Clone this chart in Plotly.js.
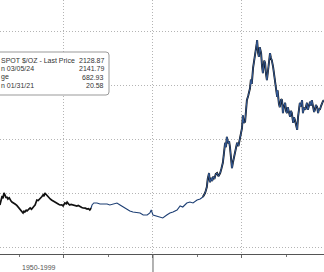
<!DOCTYPE html>
<html>
<head>
<meta charset="utf-8">
<script src="https://cdn.plot.ly/plotly-3.0.1.min.js"></script>
<style>html,body{margin:0;padding:0;background:#fff;}#chart{width:324px;height:272px;}</style>
</head>
<body>
<div id="chart"></div>
<script>
// ---- data ----
// period 1 (black)
var xEarly = [-14.4,-14.1,-13.9,-13.7,-13.5,-13.2,-13.0,-12.8,-12.6,-12.3,-12.1,-11.9,-11.7,-11.3,-11.0,-10.6,-10.3,-10.1,-9.9,-9.5,-9.2,-9.0,-8.8,-8.5,-8.3,-7.9,-7.6,-7.3,-7.0,-6.7,-6.5,-6.3,-6.1,-5.8,-5.4,-5.0,-4.7,-4.5,-4.3,-4.0,-3.8,-3.4,-3.1,-2.8,-2.5,-2.0,-1.6,-1.2,-0.9,-0.5,-0.2,0.0,0.2,0.5,0.7,1.0,1.3,1.6,2.0,2.5,2.9,3.2,3.6,4.0,4.3,4.8,5.2,5.5,5.8,6.1];
var yEarly = [177.8,186,194.4,190,200,195,190.7,193,188.9,191,187,185,183.3,182,179.6,177,174.1,171,168.5,166,163,166,164.8,168,166.7,170,172.2,170,174.1,176,177.8,183,187,186,190.7,193,196.3,194,200,197,194.4,192,188.9,187,185.2,183,181.5,179,177.8,178,175.9,178,181.5,180,183.3,180,177.8,179,177.8,176,175.9,177,174.1,173,172.2,172,170.4,171,168.5,172.2];
// period 2, calm part (blue)
var xMid = [6.1,6.3,6.7,7.4,8.1,8.8,9.7,10.3,11.0,11.9,12.6,13.3,14.2,14.8,15.5,16.4,17.1,17.8,18.7,19.3,19.6,20.0,20.9,21.6,22.2,23.1,23.8,24.5,25.4,26.1,26.7,27.6,28.3,29.0,29.9,30.6,31.2];
var yMid = [172.2,177.8,181.5,181.5,179.6,179.6,179.6,177.8,179.6,181.5,177.8,174.1,170.4,166.7,164.8,163,163,159.3,159.3,163,168.5,159.3,157.4,155.6,153.7,159.3,163,164.8,168.5,175.9,174.1,181.5,183.3,181.5,187,188.9,192.6];
// period 2, volatile part
var xLate = [31.2,31.5,31.7,31.9,32.1,32.3,32.6,32.7,32.8,33.1,33.3,33.5,33.8,34.1,34.4,34.7,35.1,35.4,35.7,35.9,36.2,36.4,36.6,36.9,37.1,37.3,37.5,37.75,38.0,38.2,38.5,38.9,39.2,39.6,39.8,40.0,40.2,40.4,40.7,40.9,41.1,41.4,41.8,42.0,42.2,42.5,42.8,43.1,43.3,43.4,43.6,43.8,44.0,44.3,44.5,44.7,45.0,45.2,45.4,45.6,45.9,46.1,46.3,46.5,46.7,47.0,47.2,47.4,47.6,47.9,48.0,48.1,48.3,48.5,48.8,49.0,49.2,49.4,49.7,49.9,50.1,50.3,50.6,50.8,51.0,51.2,51.5,51.7,51.9,52.1,52.4,52.6,52.8,53.0,53.2,53.5,53.7,53.9,54.2,54.4,54.6,54.8,55.0,55.3,55.5,55.7,56.0,56.2,56.4,56.6,56.9,57.1,57.3,57.5,57.8,58.0,58.2,58.4];
var yLate = [192.6,196,200,205,211,226,237,226,220,228,222,230,226,235,237,231,237,246,256,270,293,285,304,292,296,285,268,246,258,265,280,293,287,302,310,320,344,330,332,352,372,380,394,410,402,432,445,465,476,483,460,452,470,459,435,422,445,441,420,409,430,446,459,450,446,433,420,409,392,378,390,378,365,359,374,372,348,360,367,352,348,359,345,341,352,348,330,340,335,325,317,341,355,367,360,372,348,358,354,364,367,354,362,369,362,372,359,350,354,363,359,348,356,354,362,367,370,372];
var gridY = [100,200,300,400,500];
var periodLabel = '1950-1999';
var legendNames = ['SPOT $/OZ - Last Price','n 03/05/24','ge','n 01/31/21'];
var legendValues = ['2128.87','2141.79','682.93','20.58'];

// ---- layout constants ----
var W = 324, H = 272, B = 18, PH = H - B;
var xr = [-14.38, 58.43], yr = [87.04, 557.4];
function px(p){ return p / W; }
function py(p){ return (PH - p) / PH; }

var traces = [
  {x:xEarly, y:yEarly, mode:'lines', line:{color:'#111111', width:1.7}, hoverinfo:'skip'},
  {x:xMid, y:yMid, mode:'lines', line:{color:'#1d3f74', width:1.1}, hoverinfo:'skip'},
  {x:xLate, y:yLate, mode:'lines', line:{color:'#111111', width:1.9}, hoverinfo:'skip'},
  {x:xLate, y:yLate, mode:'lines', line:{color:'#3762a6', width:0.9}, hoverinfo:'skip'}
];

var x0 = px(-10), x1 = px(109), yb = py(95), yt = py(52), rx = px(3), ry = 3/PH;
var boxPath = 'M'+x0+','+yt+' L'+(x1-rx)+','+yt+' Q'+x1+','+yt+' '+x1+','+(yt-ry)+
  ' L'+x1+','+(yb+ry)+' Q'+x1+','+yb+' '+(x1-rx)+','+yb+' L'+x0+','+yb+' Z';

var lineY = [60, 68.7, 77.4, 86];
var anns = [];
var tf = {family:'Liberation Sans, Arial, sans-serif', size:7, color:'#333333'};
for (var i=0;i<legendNames.length;i++){
  anns.push({xref:'paper', yref:'paper', x:px(-1), y:py(lineY[i]), xanchor:'left', yanchor:'middle',
    text:legendNames[i], showarrow:false, font:tf});
  anns.push({xref:'paper', yref:'paper', x:px(106), y:py(lineY[i]), xanchor:'right', yanchor:'middle',
    text:legendValues[i], showarrow:false, font:tf});
}
anns.push({xref:'paper', yref:'paper', x:px(20), y:py(267), xanchor:'left', yanchor:'middle',
  text:periodLabel, showarrow:false, font:{family:'Liberation Sans, Arial, sans-serif', size:7, color:'#555555'}});

var sepX = (20 - xr[0])/(xr[1]-xr[0]);

var layout = {
  width:W, height:H,
  margin:{l:0, r:0, t:0, b:B, pad:0},
  paper_bgcolor:'#ffffff', plot_bgcolor:'#ffffff',
  showlegend:false,
  xaxis:{range:xr, tick0:0, dtick:20, showgrid:true, gridcolor:'#b4b4b4', griddash:'1px,2px', gridwidth:1,
    zeroline:false, showline:true, linecolor:'#555555', linewidth:1,
    ticks:'outside', ticklen:3, tickcolor:'#666666', showticklabels:false,
    minor:{tick0:0, dtick:10, ticks:'outside', ticklen:2, tickcolor:'#777777', showgrid:false}},
  yaxis:{range:yr, tickvals:gridY, showgrid:true, gridcolor:'#b4b4b4', griddash:'1px,2px', gridwidth:1,
    zeroline:false, showline:false, showticklabels:false, ticks:''},
  shapes:[
    {type:'line', xref:'paper', yref:'paper', x0:sepX, x1:sepX, y0:0, y1:-B/PH, line:{color:'#666666', width:1}},
    {type:'path', xref:'paper', yref:'paper', path:boxPath, fillcolor:'#ffffff', line:{color:'#999999', width:1}, layer:'above'}
  ],
  annotations:anns
};
Plotly.newPlot('chart', traces, layout, {staticPlot:true, displayModeBar:false});
</script>
</body>
</html>
